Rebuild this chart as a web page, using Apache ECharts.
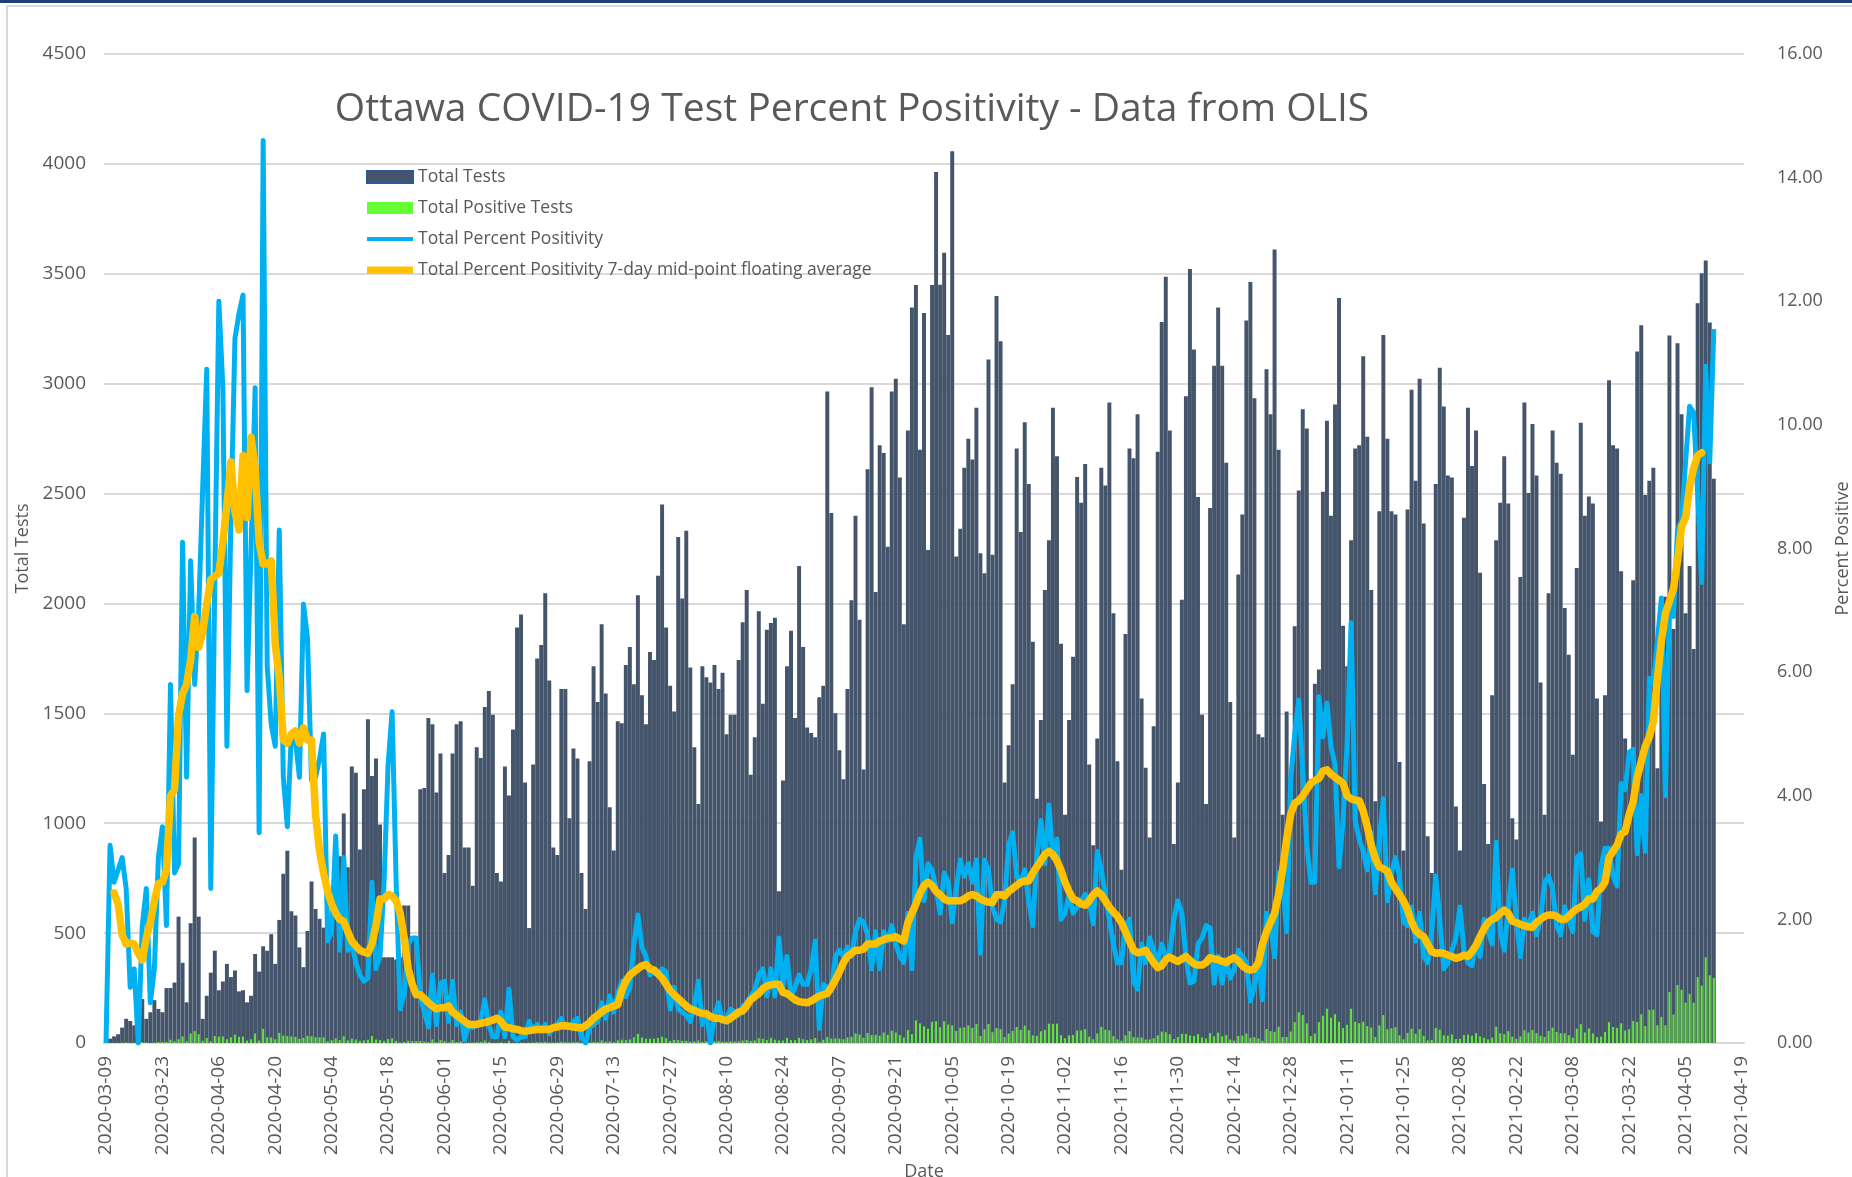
<!DOCTYPE html>
<html>
<head>
<meta charset="utf-8">
<title>Ottawa COVID-19 Test Percent Positivity</title>
<script src="https://cdn.jsdelivr.net/npm/echarts@6/dist/echarts.min.js"></script>
<style>
    html, body { margin: 0; padding: 0; background: #fff; }
    #chart { width: 1852px; height: 1177px; }
</style>
</head>
<body>
<div id="chart"></div>
<script>
// daily values, 2020-03-09 .. 2021-04-12
const totalTests = [
    15, 20, 30, 40, 70, 110, 100, 80, 50, 200, 110, 140, 195, 155, 140, 250, 250, 275, 575, 365, 185, 545, 935, 575, 110, 215, 320, 420, 240, 280, 360, 300, 330, 235, 240, 185, 215, 405, 325, 440, 420, 495, 360, 560, 770,
    875, 600, 580, 435, 345, 510, 735, 610, 565, 525, 465, 700, 640, 850, 1044, 800, 1258, 1230, 880, 1155, 1473, 1215, 1294, 994, 390, 390, 390, 380, 390, 626, 626, 480, 480, 1155, 1160, 1479, 1450, 1140, 1317, 773, 855, 1317, 1450, 1464, 890, 890,
    715, 1346, 1297, 1529, 1602, 1494, 773, 735, 1258, 1126, 1426, 1890, 1950, 1185, 523, 1267, 1749, 1811, 2046, 1649, 890, 855, 1611, 1611, 1023, 1340, 1294, 773, 610, 1282, 1714, 1552, 1905, 1590, 1073, 876, 1464, 1455, 1720, 1802, 1632, 2037, 1582, 1450, 1779, 1743,
    2126, 2450, 1890, 1626, 1508, 2302, 2023, 2331, 1708, 1346, 1088, 1714, 1664, 1640, 1720, 1611, 1685, 1405, 1494, 1494, 1743, 1914, 2061, 1220, 1391, 1964, 1544, 1880, 1911, 1935, 691, 1194, 1714, 1876, 1479, 2170, 1802, 1435, 1411, 1391, 1573, 1626, 2964, 2411, 1500, 1332,
    1200, 1611, 2014, 2399, 1926, 1244, 2611, 2984, 2052, 2720, 2684, 2258, 2964, 3022, 2573, 1905, 2787, 3346, 3449, 2699, 3322, 2243, 3449, 3963, 3450, 3596, 3222, 4057, 2214, 2340, 2617, 2749, 2655, 2890, 2228, 2137, 3110, 2222, 3399, 3193, 1185, 1355, 1632, 2705, 2325, 2825,
    2543, 1826, 1111, 1470, 2061, 2287, 2890, 2670, 1817, 1038, 1470, 1758, 2575, 2458, 2634, 1267, 900, 1385, 2617, 2537, 2914, 1955, 1282, 788, 1861, 2705, 2661, 2861, 1567, 1252, 935, 1441, 2690, 3281, 3487, 2787, 906, 1185, 2017, 2943, 3522, 3155, 2484, 1494, 1088,
    2434, 3081, 3346, 3081, 2640, 1552, 935, 2132, 2405, 3287, 3463, 2934, 1405, 1391, 3066, 2861, 3610, 2699, 1038, 1508, 1213, 1896, 2514, 2884, 2796, 1200, 1635, 1700, 2508, 2831, 2399, 2905, 3390, 1899, 1714, 2287, 2705, 2720, 3125, 2758, 2061, 1100, 2420, 3222, 2749, 2420,
    2405, 1279, 876, 2428, 2972, 2558, 3022, 2364, 941, 773, 2543, 3072, 2896, 2582, 2573, 1076, 876, 2390, 2890, 2625, 2787, 2140, 1179, 906, 1582, 2287, 2458, 2670, 2455, 1023, 926, 2120, 2914, 2502, 2816, 2582, 1640, 1038, 2046, 2787, 2640, 2590, 1979, 1767, 1311, 2161,
    2822, 2399, 2487, 2455, 1567, 1008, 1582, 3016, 2720, 2705, 2146, 1385, 1332, 2105, 3146, 3266, 2493, 2558, 2617, 1250, 1650, 2030, 3219, 1884, 3184, 2861, 1955, 2170, 1793, 3366, 3502, 3560, 3278, 2567
]
const positiveTests = [
    0, 1, 1, 1, 2, 3, 1, 1, 0, 4, 3, 1, 2, 5, 5, 5, 15, 8, 17, 30, 8, 43, 54, 40, 10, 23, 8, 32, 29, 30, 17, 26, 38, 28, 29, 11, 17, 43, 11, 64, 26, 25, 17, 46, 33,
    31, 30, 28, 19, 24, 33, 31, 26, 26, 26, 8, 13, 21, 13, 31, 12, 20, 16, 10, 12, 15, 32, 16, 14, 10, 18, 21, 10, 2, 5, 10, 8, 8, 9, 6, 4, 16, 3, 13, 8, 3, 13, 4, 7, 0, 3,
    2, 4, 5, 11, 5, 1, 1, 4, 1, 10, 1, 1, 2, 1, 2, 3, 5, 4, 6, 2, 2, 3, 6, 4, 3, 5, 5, 1, 0, 3, 5, 5, 12, 6, 8, 4, 12, 15, 13, 16, 26, 42, 25, 20, 20, 20,
    23, 29, 22, 9, 14, 13, 10, 10, 6, 8, 11, 5, 8, 0, 8, 10, 6, 6, 8, 7, 8, 11, 13, 9, 12, 22, 19, 14, 23, 15, 12, 11, 24, 14, 13, 24, 17, 14, 17, 23, 4, 15, 27, 20, 21, 20,
    17, 25, 28, 43, 39, 24, 46, 36, 37, 33, 48, 37, 56, 48, 36, 25, 59, 40, 103, 89, 76, 65, 97, 99, 72, 99, 84, 80, 55, 69, 71, 80, 69, 86, 32, 63, 87, 49, 68, 63, 27, 43, 55, 73, 60, 79,
    58, 35, 33, 53, 60, 88, 87, 88, 36, 22, 35, 37, 57, 57, 63, 29, 17, 43, 73, 61, 58, 31, 17, 10, 35, 54, 27, 25, 25, 16, 16, 22, 35, 52, 49, 40, 18, 27, 42, 41, 34, 32, 40, 25, 21,
    45, 30, 47, 30, 36, 16, 11, 32, 34, 43, 24, 26, 20, 10, 64, 54, 51, 74, 27, 27, 52, 95, 140, 127, 89, 31, 43, 95, 124, 156, 115, 131, 97, 68, 83, 156, 97, 90, 97, 77, 70, 27, 80, 127, 63, 67,
    72, 35, 17, 46, 65, 42, 63, 33, 12, 14, 69, 61, 35, 34, 39, 18, 19, 36, 38, 33, 45, 30, 24, 16, 25, 74, 44, 40, 54, 29, 19, 30, 58, 48, 59, 45, 33, 27, 55, 70, 50, 45, 44, 35, 24, 65,
    86, 48, 66, 44, 27, 29, 50, 95, 73, 69, 90, 57, 63, 100, 96, 131, 77, 151, 152, 81, 119, 81, 232, 130, 264, 242, 184, 224, 183, 300, 261, 390, 308, 296
]
const percentPositive = [
    0, 3.2, 2.6, 2.8, 3.0, 2.5, 0.9, 1.2, 0, 1.9, 2.5, 0.65, 1.2, 3.0, 3.5, 1.9, 5.8, 2.75, 2.9, 8.1, 4.3, 7.8, 5.8, 7.0, 9.0, 10.9, 2.5, 7.5, 12.0, 10.6, 4.8, 8.5, 11.4, 11.8, 12.1, 5.7, 8.0, 10.6, 3.4, 14.6, 6.1, 5.15, 4.8, 8.3, 4.3,
    3.5, 5.0, 4.9, 4.3, 7.1, 6.55, 4.25, 4.3, 4.6, 5.0, 1.65, 1.8, 3.35, 1.5, 3.0, 1.5, 1.6, 1.3, 1.1, 1.0, 1.05, 2.6, 1.2, 1.4, 2.6, 4.5, 5.36, 2.6, 0.55, 0.8, 1.6, 1.7, 1.7, 0.75, 0.5, 0.26, 1.1, 0.3, 0.97, 1.0, 0.35, 1.0, 0.3, 0.5, 0.05, 0.3,
    0.25, 0.3, 0.35, 0.7, 0.3, 0.1, 0.1, 0.5, 0.1, 0.87, 0.1, 0.05, 0.1, 0.1, 0.35, 0.2, 0.3, 0.2, 0.3, 0.15, 0.25, 0.3, 0.4, 0.25, 0.25, 0.35, 0.4, 0.1, 0, 0.25, 0.3, 0.35, 0.65, 0.4, 0.76, 0.5, 0.8, 1.0, 0.75, 0.9, 1.6, 2.07, 1.55, 1.4, 1.1, 1.15,
    1.1, 1.2, 1.15, 0.55, 0.9, 0.55, 0.5, 0.45, 0.35, 0.6, 1.0, 0.3, 0.5, 0, 0.45, 0.65, 0.35, 0.4, 0.55, 0.5, 0.45, 0.6, 0.65, 0.76, 0.85, 1.1, 1.2, 0.76, 1.2, 0.76, 1.7, 0.9, 1.4, 0.76, 0.9, 1.1, 0.95, 0.95, 1.2, 1.65, 0.24, 0.95, 0.9, 0.85, 1.4, 1.5,
    1.4, 1.55, 1.4, 1.8, 2.0, 1.96, 1.75, 1.2, 1.8, 1.2, 1.8, 1.65, 1.9, 1.6, 1.4, 1.3, 2.1, 1.2, 3.0, 3.3, 2.3, 2.9, 2.8, 2.5, 2.1, 2.75, 2.6, 1.96, 2.5, 2.96, 2.7, 2.9, 2.6, 2.96, 1.45, 2.96, 2.8, 2.2, 2.0, 1.96, 2.3, 3.2, 3.4, 2.7, 2.6, 2.8,
    2.3, 1.9, 3.0, 3.6, 2.9, 3.85, 3.0, 3.3, 2.0, 2.1, 2.4, 2.1, 2.2, 2.3, 2.4, 2.3, 1.93, 3.1, 2.8, 2.4, 2.0, 1.6, 1.3, 1.3, 1.9, 2.0, 1.0, 0.87, 1.6, 1.3, 1.7, 1.5, 1.3, 1.6, 1.4, 1.45, 2.0, 2.3, 2.1, 1.4, 0.97, 1.0, 1.6, 1.7, 1.9,
    1.86, 0.97, 1.4, 0.97, 1.35, 1.05, 1.2, 1.5, 1.4, 1.3, 0.68, 0.9, 1.4, 0.7, 2.1, 1.9, 1.4, 2.75, 2.6, 1.8, 4.26, 5.0, 5.55, 4.4, 3.2, 2.6, 2.6, 5.6, 4.95, 5.5, 4.8, 4.5, 2.85, 3.6, 4.84, 6.8, 3.6, 3.3, 3.1, 2.8, 3.4, 2.43, 3.3, 3.95, 2.3, 2.75,
    3.0, 2.7, 1.96, 1.9, 2.2, 1.65, 2.1, 1.4, 1.3, 1.8, 2.7, 2.0, 1.2, 1.3, 1.5, 1.7, 2.2, 1.5, 1.3, 1.25, 1.6, 1.4, 2.0, 1.8, 1.6, 3.25, 1.8, 1.5, 2.2, 2.8, 2.0, 1.4, 2.0, 1.9, 2.1, 1.75, 2.0, 2.6, 2.7, 2.5, 1.9, 1.75, 2.2, 2.0, 1.8, 3.0,
    3.06, 2.0, 2.64, 1.8, 1.75, 2.85, 3.15, 3.15, 2.7, 2.54, 4.2, 4.1, 4.7, 4.75, 3.06, 4.0, 3.1, 5.9, 5.8, 6.5, 7.2, 4.0, 7.2, 6.9, 8.3, 8.45, 9.4, 10.3, 10.2, 8.9, 7.45, 10.95, 9.4, 11.55
]
// 7-day mid-point floating average (starts and ends a few days in)
const percentAvg = [
    null, null,
    2.43, 2.25, 1.75, 1.6, 1.62, 1.6, 1.45, 1.34, 1.7, 1.95, 2.3, 2.58, 2.6, 2.8, 4.0, 4.1, 5.3, 5.65, 5.8, 6.2, 6.9, 6.4, 6.65, 7.1, 7.5, 7.55, 7.6, 8.1, 8.7, 9.4, 8.6, 8.3, 9.5, 8.5, 9.8, 9.3, 8.1, 7.75, 7.75, 7.8, 6.45, 5.9, 4.9,
    4.85, 5.0, 5.05, 4.85, 5.1, 4.9, 4.9, 3.7, 3.1, 2.75, 2.45, 2.25, 2.1, 2.0, 1.97, 1.8, 1.65, 1.57, 1.5, 1.47, 1.45, 1.6, 1.9, 2.33, 2.33, 2.4, 2.38, 2.3, 2.1, 1.7, 1.2, 0.95, 0.78, 0.78, 0.72, 0.65, 0.6, 0.55, 0.57, 0.57, 0.6, 0.5, 0.45, 0.4, 0.35, 0.3,
    0.3, 0.3, 0.32, 0.33, 0.35, 0.37, 0.4, 0.35, 0.26, 0.25, 0.23, 0.22, 0.2, 0.19, 0.2, 0.21, 0.22, 0.22, 0.22, 0.22, 0.25, 0.26, 0.28, 0.28, 0.27, 0.26, 0.25, 0.24, 0.28, 0.33, 0.4, 0.45, 0.5, 0.55, 0.57, 0.6, 0.62, 0.85, 1.0, 1.1, 1.15, 1.2, 1.25, 1.27, 1.2, 1.18,
    1.12, 1.05, 0.95, 0.85, 0.78, 0.72, 0.66, 0.6, 0.55, 0.53, 0.5, 0.48, 0.47, 0.43, 0.4, 0.4, 0.38, 0.36, 0.4, 0.45, 0.5, 0.52, 0.6, 0.7, 0.75, 0.8, 0.88, 0.92, 0.94, 0.95, 0.95, 0.82, 0.8, 0.75, 0.7, 0.67, 0.66, 0.65, 0.68, 0.72, 0.76, 0.78, 0.8, 0.9, 1.02, 1.15,
    1.3, 1.4, 1.45, 1.5, 1.5, 1.52, 1.6, 1.6, 1.6, 1.65, 1.67, 1.7, 1.7, 1.72, 1.68, 1.65, 1.95, 2.1, 2.25, 2.42, 2.55, 2.6, 2.55, 2.45, 2.4, 2.33, 2.3, 2.3, 2.3, 2.3, 2.33, 2.38, 2.4, 2.38, 2.33, 2.3, 2.28, 2.27, 2.4, 2.4, 2.38, 2.45, 2.5, 2.55, 2.6, 2.62,
    2.62, 2.75, 2.85, 2.95, 3.05, 3.1, 3.05, 2.95, 2.8, 2.6, 2.45, 2.33, 2.3, 2.25, 2.23, 2.3, 2.4, 2.46, 2.4, 2.3, 2.2, 2.12, 2.05, 1.95, 1.8, 1.65, 1.5, 1.46, 1.47, 1.5, 1.4, 1.3, 1.22, 1.25, 1.35, 1.39, 1.35, 1.32, 1.36, 1.4, 1.34, 1.28, 1.26, 1.26, 1.3,
    1.38, 1.36, 1.35, 1.32, 1.3, 1.35, 1.38, 1.33, 1.25, 1.2, 1.18, 1.2, 1.3, 1.6, 1.8, 1.95, 2.1, 2.4, 2.8, 3.3, 3.7, 3.88, 3.92, 4.0, 4.1, 4.2, 4.25, 4.28, 4.4, 4.42, 4.35, 4.3, 4.25, 4.2, 4.0, 3.95, 3.93, 3.92, 3.75, 3.5, 3.2, 2.98, 2.85, 2.82, 2.78, 2.6,
    2.5, 2.4, 2.3, 2.15, 1.96, 1.82, 1.76, 1.72, 1.6, 1.48, 1.45, 1.46, 1.45, 1.42, 1.4, 1.37, 1.39, 1.42, 1.4, 1.48, 1.58, 1.72, 1.85, 1.95, 2.0, 2.03, 2.1, 2.15, 2.1, 1.97, 1.95, 1.92, 1.9, 1.88, 1.87, 1.95, 2.0, 2.05, 2.07, 2.07, 2.05, 2.0, 2.0, 2.05, 2.12, 2.17,
    2.2, 2.25, 2.33, 2.33, 2.45, 2.5, 2.6, 3.0, 3.1, 3.2, 3.38, 3.42, 3.7, 3.9, 4.3, 4.55, 4.8, 4.95, 5.2, 5.9, 6.5, 6.95, 7.15, 7.35, 7.8, 8.35, 8.5, 9.0, 9.3, 9.5, 9.55,
    null, null, null
]

// axis runs from 2020-03-09 to 2021-04-19, a label every 14 days
const firstDay = Date.UTC(2020, 2, 9)
const dayCount = 407
const dates = []
for (let i = 0; i < dayCount; i++) {
    dates.push(new Date(firstDay + i * 86400000).toISOString().slice(0, 10))
}

const font = 'Open Sans'
const grey = '#595959'
const thinLine = 'path://M0,0L0,0M0,12L0,12M0,4L46,4L46,8L0,8Z'
const thickLine = 'path://M0,0L0,0M0,12L0,12M0,2.5L46,2.5L46,9.5L0,9.5Z'

let chart = echarts.init(document.getElementById('chart'))
let option = {
    animation: false,
    backgroundColor: '#ffffff',
    textStyle: { fontFamily: font },
    title: {
        text: 'Ottawa COVID-19 Test Percent Positivity - Data from OLIS',
        left: 847,
        textAlign: 'center',
        top: 85,
        textStyle: { fontFamily: font, fontSize: 39, fontWeight: 'normal', color: grey }
    },
    legend: {
        orient: 'vertical',
        left: 361,
        top: 163,
        itemWidth: 46,
        itemHeight: 12,
        itemGap: 13,
        textStyle: { fontFamily: font, fontSize: 17.5, color: grey },
        data: [
            { name: 'Total Tests', icon: 'rect', itemStyle: { color: '#44546a', borderColor: '#2f5597', borderWidth: 2 } },
            { name: 'Total Positive Tests', icon: 'rect', itemStyle: { color: '#66ff33' } },
            { name: 'Total Percent Positivity', icon: thinLine },
            { name: 'Total Percent Positivity 7-day mid-point floating average', icon: thickLine }
        ]
    },
    graphic: [
        { type: 'rect', shape: { x: 0, y: 0, width: 1852, height: 3 }, style: { fill: '#1f3f7a' } },
        { type: 'rect', shape: { x: 7, y: 6, width: 1850, height: 1180 }, style: { fill: 'none', stroke: '#d9d9d9', lineWidth: 2 } }
    ],
    grid: { left: 104, right: 108, top: 54, bottom: 134, containLabel: false, outerBoundsMode: 'none' },
    xAxis: [
        {
            type: 'category',
            data: dates,
            name: 'Date',
            nameLocation: 'middle',
            nameGap: 113,
            nameTextStyle: { fontFamily: font, fontSize: 18, color: grey },
            axisLine: { lineStyle: { color: '#d9d9d9', width: 2 } },
            axisTick: { show: false },
            axisLabel: { interval: 13, rotate: 90, margin: 13, fontFamily: font, fontSize: 19, color: grey },
            splitLine: { show: false }
        },
        { type: 'category', data: dates, show: false }
    ],
    yAxis: [
        {
            type: 'value',
            min: 0,
            max: 4500,
            interval: 500,
            name: 'Total Tests',
            nameLocation: 'middle',
            nameRotate: 90,
            nameGap: 69,
            nameTextStyle: { fontFamily: font, fontSize: 18, color: grey },
            axisLine: { show: false },
            axisTick: { show: false },
            axisLabel: {
                margin: 18,
                fontFamily: font,
                fontSize: 19,
                color: grey,
                formatter: function (v) { return String(v) }
            },
            splitLine: { lineStyle: { color: '#d9d9d9', width: 2 } }
        },
        {
            type: 'value',
            min: 0,
            max: 16,
            interval: 2,
            name: 'Percent Positive',
            nameLocation: 'middle',
            nameRotate: 90,
            nameGap: 90,
            nameTextStyle: { fontFamily: font, fontSize: 18, color: grey },
            axisLine: { show: false },
            axisTick: { show: false },
            axisLabel: {
                margin: 33,
                fontFamily: font,
                fontSize: 18,
                color: grey,
                formatter: function (v) { return v.toFixed(2) }
            },
            splitLine: { show: false }
        }
    ],
    series: [
        {
            name: 'Total Tests',
            type: 'bar',
            data: totalTests,
            barCategoryGap: '2%',
            itemStyle: { color: '#44546a' },
            z: 2
        },
        {
            name: 'Total Positive Tests',
            type: 'bar',
            xAxisIndex: 1,
            data: positiveTests,
            barWidth: 2,
            itemStyle: { color: '#62e63a' },
            z: 3
        },
        {
            name: 'Total Percent Positivity',
            type: 'line',
            yAxisIndex: 1,
            data: percentPositive,
            showSymbol: false,
            itemStyle: { color: '#00b0f0' },
            lineStyle: { color: '#00b0f0', width: 5, join: 'round' },
            z: 4
        },
        {
            name: 'Total Percent Positivity 7-day mid-point floating average',
            type: 'line',
            yAxisIndex: 1,
            data: percentAvg,
            showSymbol: false,
            connectNulls: false,
            itemStyle: { color: '#ffc000' },
            lineStyle: { color: '#ffc000', width: 7.5, cap: 'round', join: 'round' },
            z: 5
        }
    ]
}
chart.setOption(option)
</script>
</body>
</html>
